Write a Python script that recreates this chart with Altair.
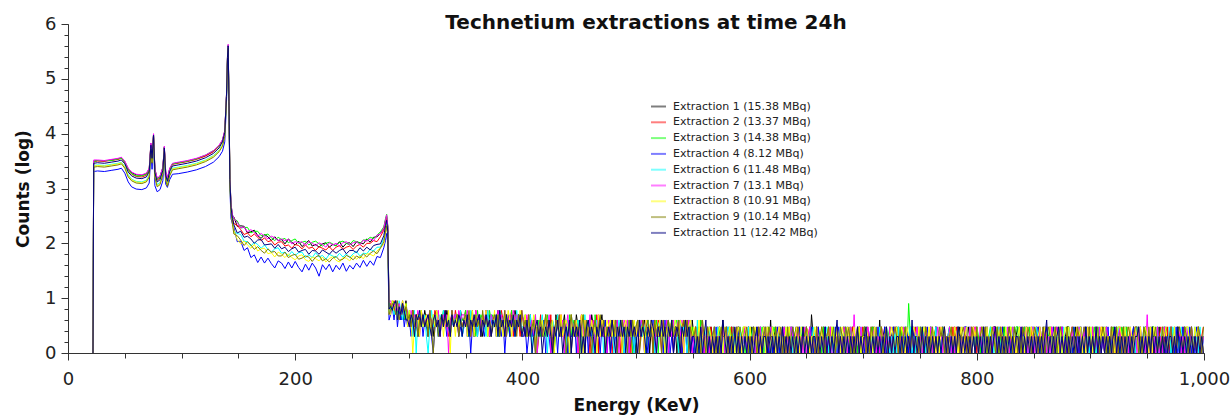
import altair as alt
import numpy as np
import pandas as pd

LABELS = ["Extraction 1 (15.38 MBq)", "Extraction 2 (13.37 MBq)", "Extraction 3 (14.38 MBq)",
          "Extraction 4 (8.12 MBq)", "Extraction 6 (11.48 MBq)", "Extraction 7 (13.1 MBq)",
          "Extraction 8 (10.91 MBq)", "Extraction 9 (10.14 MBq)", "Extraction 11 (12.42 MBq)"]
COLORS = ["#000000", "#ff0000", "#00ff00", "#0000ff", "#00ffff", "#ff00ff", "#ffff00", "#808000", "#000080"]

# energy grids (keV)
E_LOW = [22.0, 22.6, 26, 32, 38, 44, 47, 50, 53, 56, 60, 65, 69, 71.5, 73, 74, 75.3, 76.5, 78.5, 81,
         83.5, 84.8, 86, 87.5, 89.5, 92, 97, 105, 113, 121, 128, 133, 136, 138, 139.5, 140.4, 141,
         141.7, 142.5, 143.5, 144.8]
E_COMPTON = list(range(146, 279, 3))
E_EDGE = [279.5, 280.5, 281.5, 282.6]
TAIL_START = 284.0
TAIL_STEP = 1.5

# log10 counts, low-energy part (photopeak region)
LOW = {
    "Extraction 1 (15.38 MBq)": [0, 3.50, 3.51, 3.50, 3.52, 3.54, 3.56, 3.49, 3.36, 3.29, 3.25, 3.24, 3.27, 3.36, 3.82, 3.60, 3.99, 3.35, 3.18, 3.22, 3.38, 3.76, 3.30, 3.18, 3.36, 3.45, 3.47, 3.50, 3.54, 3.60, 3.68, 3.78, 3.88, 4.05, 4.70, 5.40, 5.60, 4.60, 3.20, 2.70, 2.50],
    "Extraction 2 (13.37 MBq)": [0, 3.49, 3.50, 3.50, 3.51, 3.53, 3.55, 3.47, 3.33, 3.26, 3.22, 3.21, 3.24, 3.33, 3.80, 3.57, 3.97, 3.32, 3.15, 3.19, 3.36, 3.74, 3.27, 3.15, 3.34, 3.44, 3.46, 3.49, 3.53, 3.59, 3.67, 3.77, 3.87, 4.03, 4.68, 5.39, 5.58, 4.58, 3.18, 2.68, 2.47],
    "Extraction 3 (14.38 MBq)": [0, 3.49, 3.51, 3.51, 3.51, 3.54, 3.55, 3.48, 3.35, 3.27, 3.23, 3.23, 3.26, 3.35, 3.81, 3.58, 3.98, 3.34, 3.17, 3.21, 3.37, 3.75, 3.29, 3.17, 3.35, 3.45, 3.47, 3.50, 3.54, 3.61, 3.69, 3.78, 3.88, 4.04, 4.70, 5.41, 5.62, 4.62, 3.22, 2.71, 2.52],
    "Extraction 4 (8.12 MBq)": [0, 3.31, 3.32, 3.31, 3.33, 3.35, 3.37, 3.28, 3.12, 3.03, 2.99, 2.98, 3.01, 3.10, 3.66, 3.35, 3.88, 3.05, 2.94, 2.98, 3.14, 3.62, 3.08, 3.02, 3.16, 3.26, 3.27, 3.30, 3.34, 3.40, 3.48, 3.58, 3.68, 3.85, 4.55, 5.30, 5.55, 4.45, 3.00, 2.45, 2.35],
    "Extraction 6 (11.48 MBq)": [0, 3.42, 3.43, 3.42, 3.44, 3.46, 3.48, 3.40, 3.25, 3.17, 3.13, 3.12, 3.15, 3.25, 3.74, 3.49, 3.94, 3.24, 3.07, 3.11, 3.28, 3.70, 3.19, 3.08, 3.26, 3.37, 3.39, 3.42, 3.46, 3.52, 3.60, 3.70, 3.80, 3.98, 4.64, 5.36, 5.57, 4.55, 3.12, 2.61, 2.40],
    "Extraction 7 (13.1 MBq)": [0, 3.52, 3.52, 3.51, 3.53, 3.55, 3.57, 3.50, 3.37, 3.30, 3.26, 3.25, 3.28, 3.37, 3.83, 3.61, 4.00, 3.36, 3.19, 3.23, 3.39, 3.77, 3.31, 3.19, 3.37, 3.46, 3.48, 3.51, 3.55, 3.61, 3.69, 3.79, 3.89, 4.06, 4.71, 5.42, 5.63, 4.63, 3.23, 2.72, 2.52],
    "Extraction 8 (10.91 MBq)": [0, 3.41, 3.42, 3.41, 3.43, 3.45, 3.47, 3.39, 3.23, 3.16, 3.12, 3.11, 3.14, 3.23, 3.73, 3.48, 3.93, 3.22, 3.05, 3.09, 3.27, 3.69, 3.17, 3.06, 3.25, 3.36, 3.38, 3.41, 3.45, 3.51, 3.59, 3.69, 3.79, 3.97, 4.63, 5.35, 5.57, 4.53, 3.10, 2.59, 2.37],
    "Extraction 9 (10.14 MBq)": [0, 3.39, 3.40, 3.39, 3.41, 3.43, 3.45, 3.37, 3.21, 3.14, 3.10, 3.09, 3.12, 3.21, 3.72, 3.46, 3.92, 3.20, 3.03, 3.07, 3.25, 3.68, 3.15, 3.04, 3.23, 3.34, 3.36, 3.39, 3.43, 3.49, 3.57, 3.67, 3.77, 3.95, 4.62, 5.34, 5.56, 4.52, 3.08, 2.57, 2.35],
    "Extraction 11 (12.42 MBq)": [0, 3.46, 3.47, 3.46, 3.48, 3.50, 3.52, 3.45, 3.30, 3.23, 3.19, 3.18, 3.21, 3.31, 3.79, 3.55, 3.97, 3.29, 3.12, 3.16, 3.33, 3.74, 3.24, 3.13, 3.31, 3.41, 3.43, 3.46, 3.50, 3.56, 3.64, 3.74, 3.85, 4.02, 4.68, 5.39, 5.60, 4.58, 3.16, 2.65, 2.45],
}

# log10 counts, Compton continuum 146-278 keV
COMPTON = {
    "Extraction 1 (15.38 MBq)": [2.48, 2.31, 2.32, 2.31, 2.19, 2.21, 2.24, 2.14, 2.09, 2.16, 2.12, 2.05, 2.12, 2.05, 2.07, 1.99, 2.08, 2.02, 1.97, 2.04, 1.94, 2.00, 2.05, 1.95, 1.98, 1.93, 1.99, 2.01, 1.93, 1.98, 1.96, 2.03, 1.93, 2.00, 2.01, 1.94, 2.03, 2.01, 1.99, 2.08, 2.02, 2.11, 2.12, 2.18, 2.27],
    "Extraction 2 (13.37 MBq)": [2.36, 2.33, 2.25, 2.16, 2.19, 2.12, 2.17, 2.11, 2.05, 2.10, 2.03, 2.05, 1.97, 2.02, 2.03, 1.95, 1.97, 1.91, 1.98, 1.96, 1.90, 1.97, 1.91, 1.93, 1.87, 1.94, 1.91, 1.88, 1.94, 1.87, 1.93, 1.96, 1.89, 1.93, 1.95, 1.89, 1.95, 1.98, 1.93, 2.00, 2.00, 2.05, 2.03, 2.12, 2.24],
    "Extraction 3 (14.38 MBq)": [2.44, 2.41, 2.28, 2.29, 2.29, 2.19, 2.22, 2.22, 2.14, 2.15, 2.17, 2.10, 2.05, 2.11, 2.07, 2.09, 2.01, 2.05, 2.08, 2.00, 2.02, 2.04, 1.97, 2.02, 2.04, 1.99, 1.95, 2.00, 2.02, 1.99, 1.95, 2.02, 2.04, 2.00, 1.97, 2.05, 2.03, 2.00, 2.06, 2.06, 2.11, 2.09, 2.15, 2.21, 2.30],
    "Extraction 4 (8.12 MBq)": [2.29, 2.03, 2.04, 1.87, 1.92, 1.74, 1.79, 1.65, 1.75, 1.64, 1.73, 1.63, 1.55, 1.68, 1.64, 1.54, 1.66, 1.55, 1.67, 1.56, 1.48, 1.62, 1.51, 1.64, 1.55, 1.40, 1.61, 1.52, 1.62, 1.48, 1.60, 1.52, 1.64, 1.49, 1.60, 1.53, 1.64, 1.56, 1.69, 1.58, 1.68, 1.60, 1.76, 1.74, 1.92],
    "Extraction 6 (11.48 MBq)": [2.21, 2.18, 2.16, 2.04, 2.03, 1.95, 2.02, 1.98, 1.91, 1.97, 1.89, 1.84, 1.90, 1.92, 1.82, 1.84, 1.77, 1.85, 1.78, 1.83, 1.84, 1.74, 1.79, 1.74, 1.83, 1.75, 1.78, 1.71, 1.80, 1.77, 1.74, 1.82, 1.75, 1.81, 1.74, 1.81, 1.85, 1.77, 1.82, 1.81, 1.89, 1.86, 1.93, 1.93, 2.09],
    "Extraction 7 (13.1 MBq)": [2.46, 2.38, 2.28, 2.30, 2.21, 2.25, 2.20, 2.13, 2.18, 2.13, 2.08, 2.13, 2.10, 2.05, 2.08, 2.05, 2.07, 1.99, 2.03, 2.01, 2.03, 1.96, 2.03, 2.00, 1.96, 2.01, 1.98, 1.93, 2.01, 1.97, 2.00, 1.95, 2.01, 2.03, 1.97, 2.01, 2.03, 1.97, 2.06, 2.04, 2.08, 2.05, 2.15, 2.17, 2.28],
    "Extraction 8 (10.91 MBq)": [2.24, 2.07, 1.99, 2.04, 1.97, 1.91, 1.98, 1.86, 1.90, 1.91, 1.81, 1.83, 1.75, 1.84, 1.80, 1.74, 1.81, 1.74, 1.70, 1.77, 1.79, 1.70, 1.67, 1.75, 1.72, 1.68, 1.75, 1.66, 1.72, 1.76, 1.69, 1.66, 1.74, 1.73, 1.68, 1.78, 1.71, 1.77, 1.72, 1.81, 1.80, 1.77, 1.86, 1.92, 1.98],
    "Extraction 9 (10.14 MBq)": [2.17, 2.14, 2.06, 1.96, 2.03, 1.97, 1.89, 1.94, 1.87, 1.82, 1.90, 1.84, 1.85, 1.77, 1.77, 1.84, 1.74, 1.78, 1.80, 1.71, 1.73, 1.77, 1.75, 1.67, 1.75, 1.78, 1.68, 1.72, 1.66, 1.73, 1.76, 1.69, 1.71, 1.78, 1.75, 1.70, 1.77, 1.73, 1.81, 1.75, 1.82, 1.86, 1.81, 1.91, 2.03],
    "Extraction 11 (12.42 MBq)": [2.34, 2.19, 2.22, 2.11, 2.13, 2.08, 2.00, 2.06, 2.07, 1.97, 1.98, 1.99, 1.91, 1.98, 1.90, 1.93, 1.85, 1.90, 1.93, 1.84, 1.87, 1.89, 1.80, 1.87, 1.86, 1.80, 1.88, 1.84, 1.80, 1.87, 1.82, 1.87, 1.90, 1.81, 1.87, 1.87, 1.83, 1.92, 1.86, 1.93, 1.88, 1.96, 1.98, 1.99, 2.14],
}

# log10 counts at the Compton edge
EDGE = {
    "Extraction 1 (15.38 MBq)": [2.42, 2.50, 2.30, 0.90],
    "Extraction 2 (13.37 MBq)": [2.38, 2.47, 2.27, 0.85],
    "Extraction 3 (14.38 MBq)": [2.45, 2.53, 2.32, 0.95],
    "Extraction 4 (8.12 MBq)": [2.05, 2.18, 2.00, 0.60],
    "Extraction 6 (11.48 MBq)": [2.27, 2.38, 2.18, 0.75],
    "Extraction 7 (13.1 MBq)": [2.43, 2.52, 2.31, 0.92],
    "Extraction 8 (10.91 MBq)": [2.22, 2.34, 2.14, 0.72],
    "Extraction 9 (10.14 MBq)": [2.20, 2.32, 2.12, 0.70],
    "Extraction 11 (12.42 MBq)": [2.32, 2.42, 2.22, 0.80],
}

# raw counts per 1.5 keV channel above 284 keV (one digit per channel)
TAIL = {
    "Extraction 1 (15.38 MBq)": (
        "7869584659" "4536452543" "6453425634" "5436425345" "3644532462" "4354236452" "3546243534" "25364532"
        "3423524132" "4325234215" "3243523413" "2534231432" "5324135242" "3142342413" "2434231423" "3424132432" "4231432423" "1342342314"
        "2312031221" "3202132413" "1230213212" "2031321023" "1322041231" "2103212302" "3120213205" "2131023123" "0212312031" "2213021321"
        "3021231204" "1232102313" "2102312032" "1320213123" "2031202312" "3213023102" "1320312023" "2130213312" "0231202132" "3120231021"
        "2302130213" "1203213023" "3120312302" "2131203120" "3202132031" "1230212031" "2310230213" "1203120321" "3021302132" "2130213021"),
    "Extraction 2 (13.37 MBq)": (
        "8697465847" "5346253464" "3525436342" "5463245364" "2534635243" "6342534625" "4352364253" "46253425"
        "4235234312" "5243425132" "4352314253" "2413524231" "3425132423" "2413423142" "3241423413" "4234241324" "3142342413" "2431424231"
        "1320431202" "3120312321" "0231203122" "3102132031" "2203123120" "3212031302" "1230213231" "2031220312" "3021312023" "1203212303"
        "2130231021" "3202131230" "2132021302" "3120231213" "0231202312" "2031320213" "1203231202" "3120213203" "2312032120" "1302312031"
        "2031202312" "3120231203" "1232031202" "3021302123" "2130213020" "3120312032" "2031230213" "1202312031" "3201320312" "2031203123"),
    "Extraction 3 (14.38 MBq)": (
        "6988576948" "4635245363" "4526354352" "4634526345" "3544632534" "2635435264" "5342653453" "26354352"
        "3524323514" "2342532413" "5234231524" "3243152342" "3152423413" "2432413242" "3424132434" "2314243241" "3423142432" "4132342413"
        "2031432103" "2130231203" "1321203123" "0213231202" "3120312321" "0231203120" "2312302132" "1203213021" "2302312031" "2130220312"
        "3021231202" "3120231203" "2131208212" "0231320213" "1230213021" "3120230213" "2031203212" "1302312031" "2130213203" "3021320312"
        "1203213023" "2312031203" "0213203121" "3120231320" "2031203213" "1320312031" "2031230213" "3120213202" "1230312031" "2130203212"),
    "Extraction 4 (8.12 MBq)": (
        "5748364735" "3425342352" "4324213423" "5342324354" "2323524132" "4253423524" "3425324135" "24323542"
        "2312423132" "3241321423" "1324231322" "4132312403" "2132313241" "3124213231" "2413213242" "3121324132" "2314231213" "3241231302"
        "1203120231" "0213021302" "3120213102" "2031020312" "1302130213" "0231202130" "2130213023" "1203120312" "0213031202" "3120213021"
        "1302312031" "2031021320" "3120230213" "0213120312" "2031203120" "1202130213" "3021203120" "2130213102" "0312031202" "1203120213"
        "2031021302" "1320213021" "0213120302" "3120213120" "2013021302" "1203120231" "3021302120" "2130213021" "0213120312" "1302031202"),
    "Extraction 6 (11.48 MBq)": (
        "6857496475" "4352614543" "5203634525" "3634524353" "4623542634" "5243542635" "3452634524" "35426343"
        "3423513242" "3524132432" "5323414253" "2341325243" "3124324132" "2431424231" "3242413424" "2314243123" "4231423424" "3142321432"
        "2140213203" "1230312021" "3203120312" "2130230213" "1203213120" "3021320312" "0213203121" "3202130231" "2031203213" "1202312031"
        "2310213203" "1203212031" "3021302312" "0312031213" "2030213202" "3120231203" "2130213120" "3021320213" "1203120312" "2312030213"
        "1320213021" "2031320312" "3120213203" "0213120321" "2302130213" "1203213120" "3120312032" "2031230213" "1320213021" "3021320312"),
    "Extraction 7 (13.1 MBq)": (
        "9786685967" "5364536254" "3546345362" "4535136453" "6455364253" "6453546325" "4536453624" "53645346"
        "4352342513" "4234251324" "3524135243" "2413524325" "3413524231" "4234241324" "3414232424" "3142342413" "2432413242" "3424132431"
        "2312041231" "2031220313" "1203231202" "3122031213" "0231232102" "3123021320" "2312031231" "2032130212" "3102312032" "1230512031"
        "2032123120" "3212031232" "0213212031" "2312023213" "1203231220" "3120231203" "2031232031" "1320213212" "3021302312" "2130231203"
        "1203213021" "3213203120" "2031203213" "1320312031" "2032130212" "3120213023" "1230215031" "2031203212" "3120231203" "2130213202"),
    "Extraction 8 (10.91 MBq)": (
        "5968475968" "3641345263" "4534253643" "5243605425" "3433524362" "5342536243" "3625342536" "42534362"
        "3524235142" "3425232413" "4252343152" "3423514232" "4231524324" "3424232413" "4232342423" "3142342432" "4231323424" "3243142342"
        "3214023123" "2031232031" "2312023213" "3203123120" "2313203212" "3021323120" "3213203212" "2312031223" "1320321320" "3212302312"
        "2320313212" "3023123203" "1232032123" "2031232031" "3212032312" "2313202312" "3120323123" "2031232032" "3213023120" "2312032132"
        "3023123203" "1232031232" "3120232312" "0323123203" "2312032123" "3203123203" "2131232031" "3212032312" "2031232123" "3120323120"),
    "Extraction 9 (10.14 MBq)": (
        "6875946857" "4536352435" "3426303424" "5353426345" "2434536243" "5342635342" "4535243624" "35342536"
        "3425234132" "4235243124" "3523412352" "4231352423" "1342352413" "2342413242" "3142423412" "4234231423" "3142342423" "2413424132"
        "2312042132" "1230213223" "1203231320" "2312032132" "0231322031" "2312031232" "1320323120" "2130232123" "0231203213" "2312023122"
        "3120321302" "3123120232" "1302312031" "2213203212" "3021323120" "2312031232" "0213203123" "2312032031" "3120232132" "1203213202"
        "3212031232" "2031232103" "1232032123" "2031202312" "3212031230" "2130232123" "3021320312" "2312031202" "3120232132" "1230213203"),
    "Extraction 11 (12.42 MBq)": (
        "7689475864" "4354254635" "3453245342" "5363425343" "5424352435" "3452435342" "4352634253" "43524352"
        "3242312342" "3123242132" "4231232413" "2324121342" "3213242312" "3242132423" "1324232142" "3213243213" "2423132412" "3213242312"
        "2121312412" "1212121421" "2121312121" "2121212312" "1221212121" "2131212121" "2121312121" "2212121312" "1212412121" "2121213121"
        "2312121212" "1213121212" "2121212141" "2121312121" "2121212312" "1212132121" "2121212121" "3121212312" "1212121212" "2131212121"
        "2121212412" "1212312121" "2121212121" "3121213121" "2121212312" "1212121212" "2312121213" "1212121212" "2121312121" "2121212121"),
}

X_MAJOR = [0, 200, 400, 600, 800, 1000]
X_MINOR = list(range(0, 1001, 50))
Y_MAJOR = [0, 1, 2, 3, 4, 5, 6]
Y_MINOR = [round(0.2 * i, 1) for i in range(31)]

rows = []
for lab in LABELS:
    for e, v in zip(E_LOW, LOW[lab], strict=True):
        rows.append((lab, float(e), v))
    for e, v in zip(E_COMPTON, COMPTON[lab], strict=True):
        rows.append((lab, float(e), v))
    for e, v in zip(E_EDGE, EDGE[lab], strict=True):
        rows.append((lab, float(e), v))
    for i, ch in enumerate(TAIL[lab]):
        c = int(ch)
        e = TAIL_START + TAIL_STEP * i
        if e > 1000:
            break
        rows.append((lab, float(e), float(np.log10(c)) if c > 0 else 0.0))
df = pd.DataFrame(rows, columns=["series", "energy", "logcounts"])

FONT = "DejaVu Sans"
xscale = alt.Scale(domain=[0, 1000], nice=False, zero=False)
yscale = alt.Scale(domain=[0, 6], nice=False)
cscale = alt.Scale(domain=LABELS, range=COLORS)
legend = alt.Legend(orient="none", legendX=582, legendY=74, title=None, symbolType="stroke",
                    symbolSize=225, symbolStrokeWidth=2, symbolOpacity=0.5, labelFont=FONT,
                    labelFontSize=11, labelColor="#222222", rowPadding=1.8, labelOffset=6, padding=0)

x_major = alt.Axis(values=X_MAJOR, format=",d", orient="bottom", tickSize=7, labelFontSize=18,
                   labelPadding=10, labelFlush=False, title="Energy (KeV)", titleFontSize=17,
                   titleFontWeight="bold", titleY=57, titleBaseline="alphabetic", grid=False)
x_minor = alt.Axis(values=X_MINOR, orient="bottom", tickSize=5, labels=False, domain=False,
                   title=None, grid=False)
y_major = alt.Axis(values=Y_MAJOR, orient="left", tickSize=7, labelFontSize=18, labelPadding=5,
                   labelFlush=False, title="Counts (log)", titleFontSize=17, titleFontWeight="bold",
                   titleX=-40, titleY=164.5, titleBaseline="alphabetic", grid=False)
y_minor = alt.Axis(values=Y_MINOR, orient="left", tickSize=4, labels=False, domain=False,
                   title=None, grid=False)

base = alt.Chart(df)
layers = []
for k, lab in enumerate(LABELS):
    if k == 0:
        xa, ya = x_major, y_major
    elif k == 1:
        xa, ya = x_minor, y_minor
    else:
        xa, ya = None, None
    layers.append(
        base.transform_filter(alt.datum.series == lab)
        .mark_line(strokeWidth=1, clip=True)
        .encode(
            x=alt.X("energy:Q", scale=xscale, axis=xa),
            y=alt.Y("logcounts:Q", scale=yscale, axis=ya),
            color=alt.Color("series:N", scale=cscale, legend=legend),
        )
    )

chart = (
    alt.layer(*layers)
    .resolve_axis(x="independent", y="independent")
    .properties(
        width=1136, height=329,
        padding={"left": 68, "top": 24, "right": 27, "bottom": 64},
        autosize=alt.AutoSizeParams(type="none"),
        title=alt.Title("Technetium extractions at time 24h", font=FONT, fontSize=20,
                        fontWeight="bold", color="#111111", anchor="middle", dx=10, dy=34,
                        baseline="alphabetic", offset=0),
    )
    .configure_axis(domainColor="#333333", tickColor="#333333", labelColor="#222222",
                    labelFont=FONT, titleFont=FONT, titleColor="#111111")
    .configure_view(stroke=None)
)

chart.save("out.html", embed_options={"renderer": "svg", "actions": False})
